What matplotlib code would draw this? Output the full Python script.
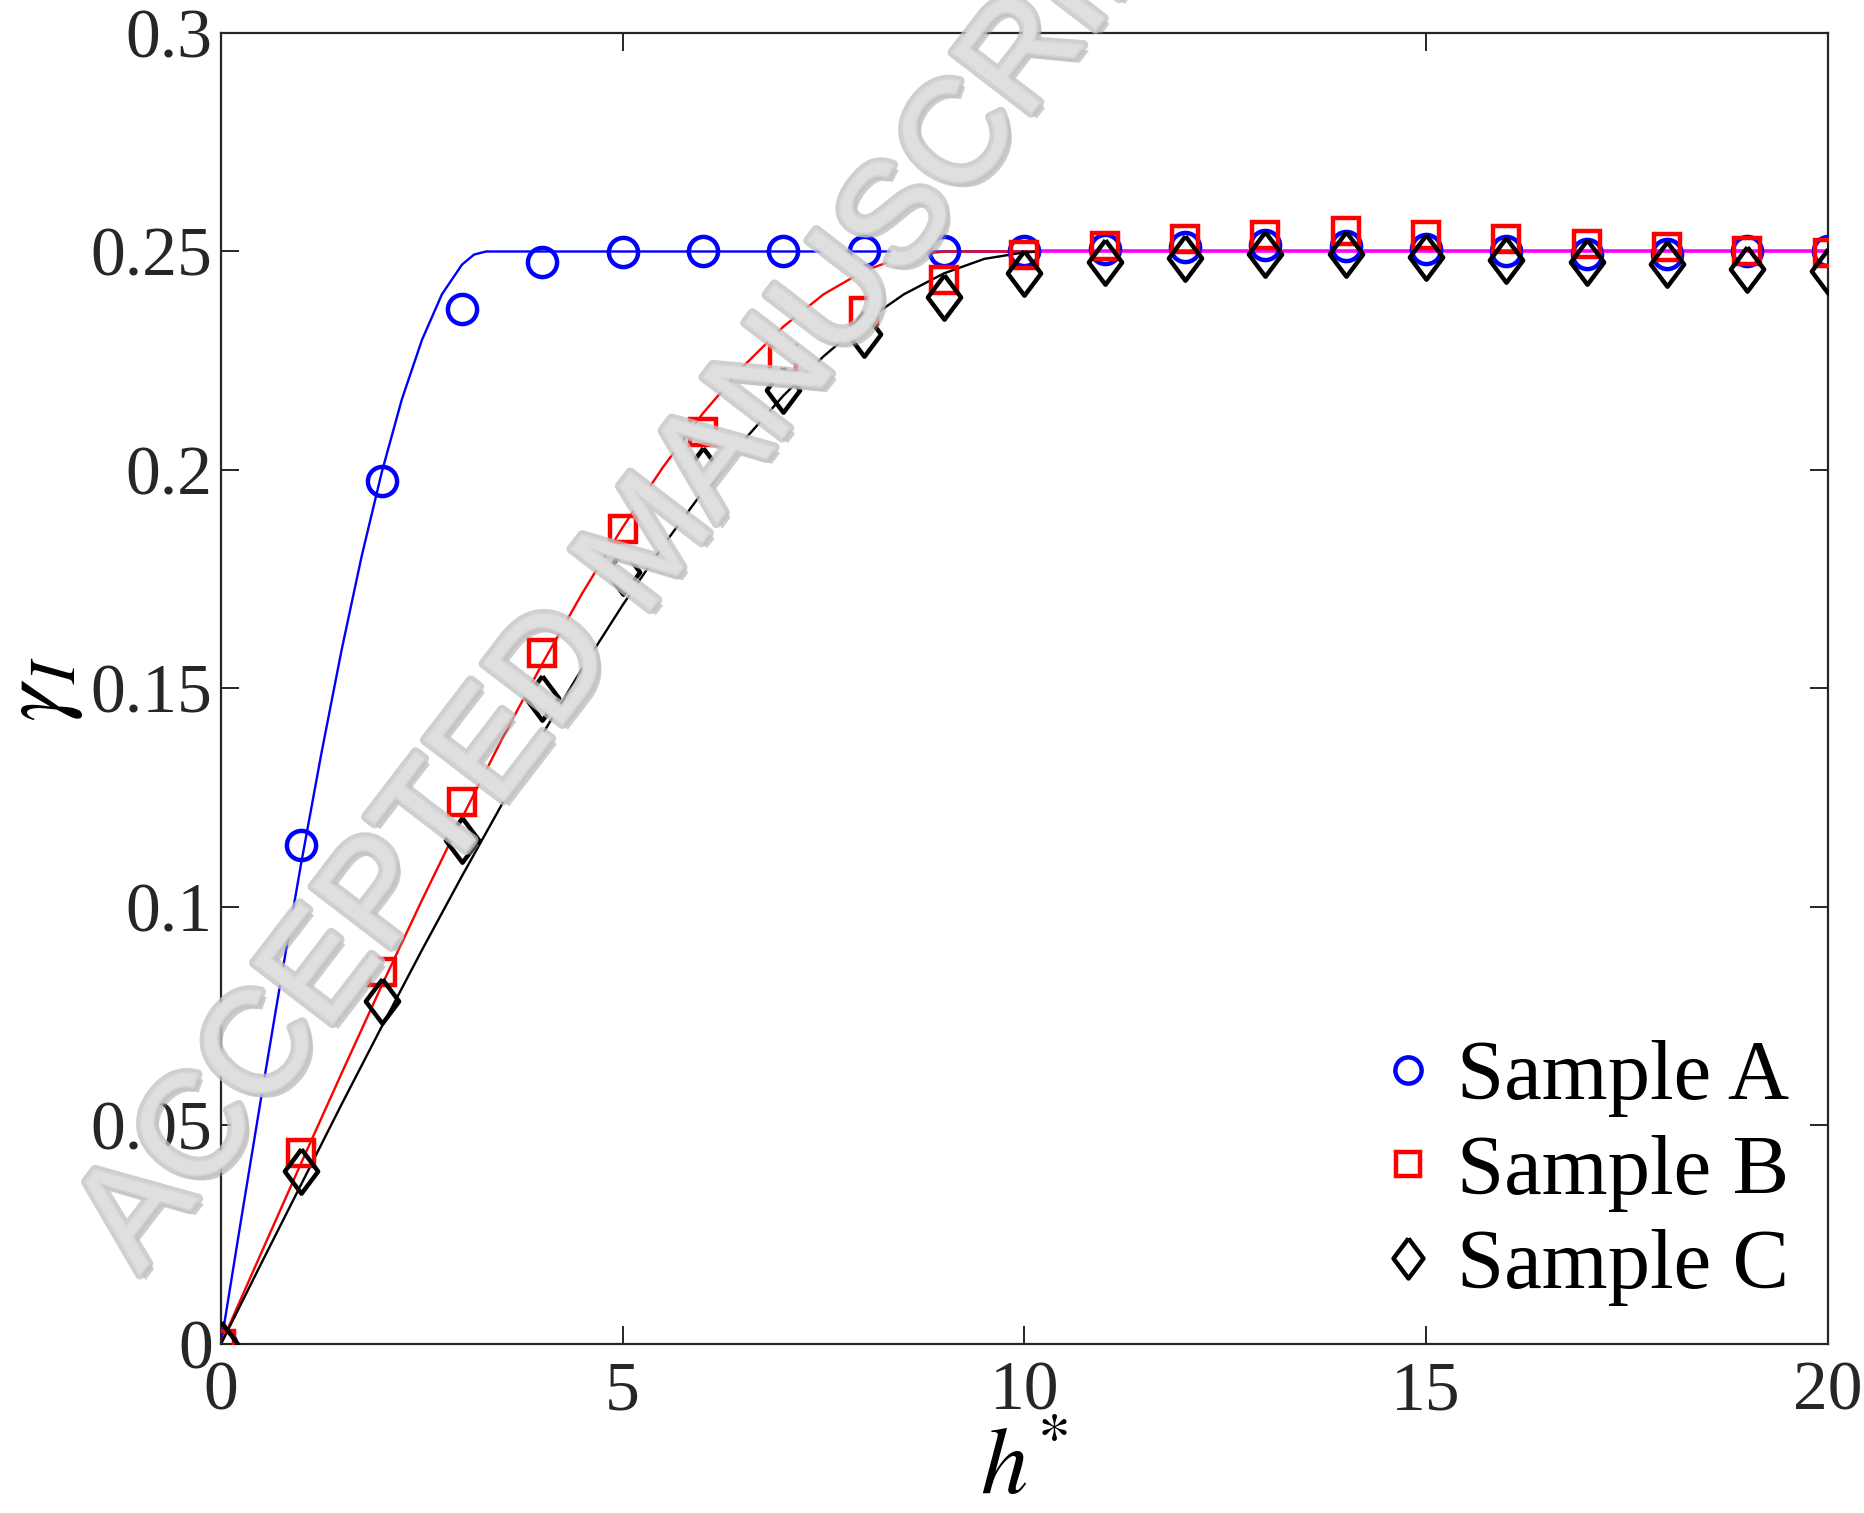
import matplotlib
matplotlib.use('Agg')
import matplotlib.pyplot as plt
import matplotlib.patheffects as pe
import numpy as np

# measured points (lag h*, value)
h_pts = list(range(0, 21))
sample_a = [0.0, 0.1141, 0.1974, 0.2369, 0.2475, 0.2499, 0.2500, 0.2500, 0.2500, 0.2500, 0.2500,
            0.2505, 0.2510, 0.2515, 0.2512, 0.2505, 0.2500, 0.2495, 0.2495, 0.2500, 0.2502]
sample_b = [0.0, 0.0436, 0.0852, 0.1241, 0.1582, 0.1865, 0.2088, 0.2254, 0.2363, 0.2434, 0.2491,
            0.2513, 0.2529, 0.2537, 0.2546, 0.2537, 0.2529, 0.2518, 0.2510, 0.2502, 0.2497]
sample_c = [0.0, 0.0397, 0.0784, 0.1154, 0.1478, 0.1767, 0.2001, 0.2184, 0.2311, 0.2396, 0.2450,
            0.2475, 0.2486, 0.2494, 0.2494, 0.2488, 0.2480, 0.2475, 0.2472, 0.2461, 0.2456]

# fitted curves
fit_a_h = [0, 0.25, 0.5, 0.75, 1, 1.25, 1.5, 1.75, 2, 2.25, 2.5, 2.75, 3, 3.15, 3.3, 10.2]
fit_a_v = [0, 0.0284, 0.0564, 0.0838, 0.1102, 0.1352, 0.1587, 0.1802, 0.1994, 0.2161, 0.2297,
           0.2402, 0.2470, 0.2493, 0.2500, 0.2500]
fit_b_h = [0, 0.5, 1, 1.5, 2, 2.5, 3, 3.5, 4, 4.5, 5, 5.5, 6, 6.5, 7, 7.5, 8, 8.5, 9, 10.2]
fit_b_v = [0, 0.0208, 0.0415, 0.0619, 0.0820, 0.1015, 0.1204, 0.1385, 0.1557, 0.1719, 0.1869,
           0.2006, 0.2130, 0.2237, 0.2328, 0.2402, 0.2455, 0.2489, 0.2500, 0.2500]
fit_c_h = [0, 0.5, 1, 1.5, 2, 2.5, 3, 3.5, 4, 4.5, 5, 5.5, 6, 6.5, 7, 7.5, 8, 8.5, 9, 9.5, 10, 10.2]
fit_c_v = [0, 0.0184, 0.0366, 0.0548, 0.0726, 0.0901, 0.1071, 0.1236, 0.1395, 0.1547, 0.1691,
           0.1826, 0.1951, 0.2066, 0.2170, 0.2260, 0.2338, 0.2402, 0.2450, 0.2483, 0.2498, 0.2500]
sill_h = [10.2, 20]
sill_v = [0.25, 0.25]

plt.rcParams['font.family'] = ['Liberation Serif', 'DejaVu Serif']
plt.rcParams['mathtext.fontset'] = 'stix'
dark = '#262626'

fig = plt.figure(figsize=(18.65, 15.13), dpi=100)
ax = fig.add_axes([0.1185, 0.1117, 0.8615, 0.8665])

ax.plot(fit_a_h, fit_a_v, color='blue', lw=1.7, zorder=2)
ax.plot(fit_b_h, fit_b_v, color='red', lw=1.7, zorder=2)
ax.plot(fit_c_h, fit_c_v, color='black', lw=1.7, zorder=2)
ax.plot(sill_h, sill_v, color='magenta', lw=2.6, zorder=2)

diamond = [(0, 1), (0.75, 0), (0, -1), (-0.75, 0), (0, 1)]
ax.plot(h_pts, sample_a, ls='none', marker='o', ms=21, mfc='none', mec='blue', mew=3.2,
        label='Sample A', zorder=3)
ax.plot(h_pts, sample_b, ls='none', marker='s', ms=19, mfc='none', mec='red', mew=3.2,
        label='Sample B', zorder=3)
ax.plot(h_pts, sample_c, ls='none', marker=diamond, ms=32, mfc='none', mec='black', mew=3.2,
        label='Sample C', zorder=3)

ax.set_xlim(0, 20)
ax.set_ylim(0, 0.3)
ax.set_xticks([0, 5, 10, 15, 20])
ax.set_yticks([0, 0.05, 0.1, 0.15, 0.2, 0.25, 0.3])
ax.set_yticklabels(['0', '0.05', '0.1', '0.15', '0.2', '0.25', '0.3'])
ax.tick_params(direction='in', length=13, width=1.4, colors=dark, labelsize=50,
               top=True, right=True)
ax.tick_params(axis='x', pad=12)
ax.tick_params(axis='y', pad=6)
for s in ax.spines.values():
    s.set_color(dark)
    s.set_linewidth(1.6)

ax.set_xlabel(r'$h^{*}$', fontsize=68, labelpad=3)
ax.set_ylabel(r'$\gamma_I$', fontsize=68, labelpad=4)

leg = ax.legend(loc='lower right', frameon=False, fontsize=61, handlelength=0.6,
                handletextpad=0.28, labelspacing=0.2, borderaxespad=0.05, markerscale=0.9)

# watermark
fig.text(0.350, 0.640, 'ACCEPTED MANUSCRIPT', family='Liberation Sans', fontsize=104,
         color='#e0e0e0', rotation=52.5, rotation_mode='anchor',
         ha='center', va='center', alpha=0.78, zorder=10,
         path_effects=[pe.SimplePatchShadow(offset=(4, -4), shadow_rgbFace='#909090', alpha=0.45),
                       pe.withStroke(linewidth=7, foreground='#c2c2c2'),
                       pe.withStroke(linewidth=2.5, foreground='#d6d6d6')])

fig.savefig('out.png', dpi=100)
